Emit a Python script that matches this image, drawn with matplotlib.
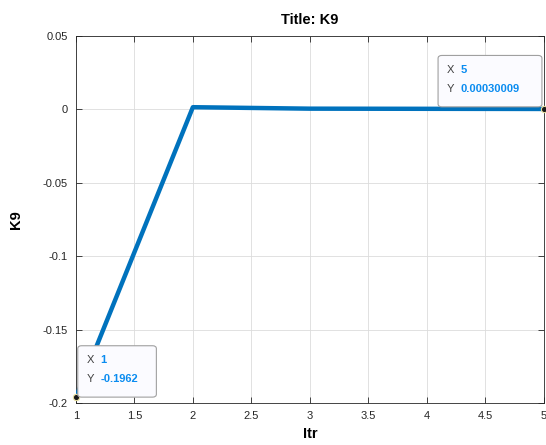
import matplotlib.pyplot as plt
from matplotlib.patches import FancyBboxPatch

itr = [1, 2, 3, 4, 5]
k9 = [-0.1962, 0.0015, 0.0005, 0.0004, 0.00030009]

x_ticks = [1, 1.5, 2, 2.5, 3, 3.5, 4, 4.5, 5]
x_labels = ['1', '1.5', '2', '2.5', '3', '3.5', '4', '4.5', '5']
y_ticks = [-0.2, -0.15, -0.1, -0.05, 0, 0.05]
y_labels = ['-0.2', '-0.15', '-0.1', '-0.05', '0', '0.05']

plt.rcParams['font.family'] = ['Liberation Sans', 'DejaVu Sans']

fig = plt.figure(figsize=(5.46, 4.45), dpi=100)
ax = fig.add_axes([0.139, 0.0944, 0.857, 0.8247])

ax.plot(itr, k9, color='#0072BD', linewidth=3.2, solid_capstyle='butt', zorder=3)

ax.set_xlim(1, 5)
ax.set_ylim(-0.2, 0.05)
ax.set_xticks(x_ticks)
ax.set_xticklabels(x_labels)
ax.set_yticks(y_ticks)
ax.set_yticklabels(y_labels)
ax.tick_params(direction='in', top=True, right=True, labelsize=8, colors='#262626',
               length=4, width=0.6, pad=6)
ax.grid(True, color='#dcdcdc', linewidth=0.6)
ax.set_axisbelow(True)
for s in ax.spines.values():
    s.set_color('#262626')
    s.set_linewidth(0.6)

ax.set_title('Title: K9', fontsize=10.5, fontweight='bold', pad=9)
ax.set_xlabel('Itr', fontsize=10.5, fontweight='bold', labelpad=4)
ax.set_ylabel('K9', fontsize=10.5, fontweight='bold', labelpad=14)

# data tips
tips = [(itr[0], k9[0], (0.004, 0.016), '1', '-0.1962'),
        (itr[-1], k9[-1], (0.774, 0.807), '5', '0.00030009')]
widths = [0.168, 0.222]
for (tx, ty, (bx, by), xs, ys), w in zip(tips, widths):
    ax.plot(tx, ty, 'o', color='#1a1a1a', markersize=4.5, markeredgecolor='#e8e0a0',
            markeredgewidth=0.8, clip_on=False, zorder=5)
    box = FancyBboxPatch((bx, by), w, 0.14, boxstyle='round,pad=0,rounding_size=0.008',
                         transform=ax.transAxes, facecolor='#fbfbff', edgecolor='#a0a0a0',
                         linewidth=0.8, zorder=6, clip_on=False)
    ax.add_patch(box)
    ax.text(bx + 0.019, by + 0.1, 'X', transform=ax.transAxes, fontsize=8,
            color='#404040', va='center', zorder=7)
    ax.text(bx + 0.019, by + 0.049, 'Y', transform=ax.transAxes, fontsize=8,
            color='#404040', va='center', zorder=7)
    ax.text(bx + 0.049, by + 0.1, xs, transform=ax.transAxes, fontsize=8,
            color='#0a8cf0', fontweight='bold', va='center', zorder=7)
    ax.text(bx + 0.049, by + 0.049, ys, transform=ax.transAxes, fontsize=8,
            color='#0a8cf0', fontweight='bold', va='center', zorder=7)

fig.savefig('out.png', dpi=100)
